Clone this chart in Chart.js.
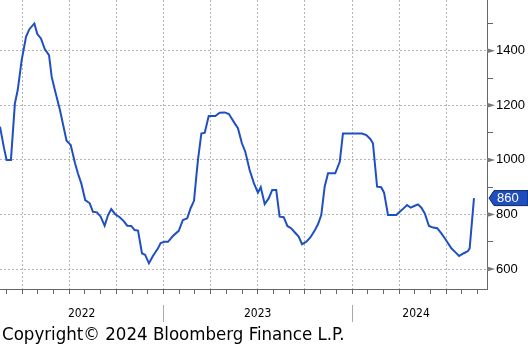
<!DOCTYPE html>
<html>
<head>
<meta charset="utf-8">
<script src="https://cdn.jsdelivr.net/npm/chart.js@4.4.1/dist/chart.umd.min.js"></script>
<style>
  html, body { margin: 0; padding: 0; background: #fff; }
  #wrap { position: relative; width: 528px; height: 349px; }
  #copy {
    position: absolute; left: 2px; top: 323px;
    font: 18.5px "DejaVu Sans Condensed", "Liberation Sans", sans-serif;
    color: #000; white-space: nowrap; line-height: 22px;
  }
</style>
</head>
<body>
<div id="wrap">
  <canvas id="chart" width="528" height="349"></canvas>
  <div id="copy">Copyright© 2024 Bloomberg Finance L.P.</div>
</div>
<script>
// x as decimal years
const dates = [
  2022.133, 2022.154, 2022.168, 2022.191, 2022.212, 2022.227, 2022.248, 2022.271, 2022.288, 2022.315,
  2022.331, 2022.350, 2022.371, 2022.393, 2022.407, 2022.424, 2022.451, 2022.468, 2022.486, 2022.508,
  2022.531, 2022.546, 2022.564, 2022.585, 2022.609, 2022.626, 2022.647, 2022.667, 2022.688, 2022.706,
  2022.723, 2022.744, 2022.768, 2022.789, 2022.808, 2022.829, 2022.847, 2022.865, 2022.886, 2022.903,
  2022.923, 2022.944, 2022.971, 2022.985, 2023.006, 2023.024, 2023.050, 2023.081, 2023.103, 2023.126,
  2023.144, 2023.162, 2023.174, 2023.183, 2023.201, 2023.219, 2023.240, 2023.275, 2023.298, 2023.325,
  2023.347, 2023.378, 2023.395, 2023.416, 2023.434, 2023.457, 2023.480, 2023.501, 2023.516, 2023.537,
  2023.558, 2023.577, 2023.598, 2023.616, 2023.638, 2023.657, 2023.678, 2023.696, 2023.717, 2023.735,
  2023.758, 2023.779, 2023.802, 2023.820, 2023.837, 2023.855, 2023.873, 2023.911, 2023.935, 2023.952,
  2024.053, 2024.076, 2024.097, 2024.111, 2024.133, 2024.155, 2024.170, 2024.191, 2024.235, 2024.253,
  2024.265, 2024.292, 2024.311, 2024.333, 2024.350, 2024.368, 2024.386, 2024.408, 2024.430, 2024.452,
  2024.474, 2024.492, 2024.527, 2024.545, 2024.568, 2024.593, 2024.615, 2024.624, 2024.647
];
const values = [
  1122, 1044, 1000, 1000, 1207, 1256, 1366, 1451, 1478, 1500,
  1461, 1445, 1405, 1384, 1305, 1256, 1183, 1128, 1070, 1055,
  988, 951, 914, 853, 841, 810, 808, 792, 759, 798,
  820, 801, 790, 776, 759, 758, 743, 741, 658, 652,
  621, 648, 676, 695, 700, 700, 721, 740, 780, 786,
  823, 850, 938, 1000, 1097, 1100, 1161, 1161, 1173, 1174,
  1168, 1134, 1116, 1061, 1030, 963, 914, 880, 900, 838,
  859, 890, 890, 792, 790, 758, 749, 735, 719, 691,
  700, 716, 741, 765, 798, 902, 951, 951, 993, 1097,
  1097, 1091, 1077, 1061, 902, 900, 880, 798, 798, 810,
  817, 835, 825, 832, 837, 825, 804, 758, 752, 750,
  731, 713, 676, 664, 648, 658, 666, 676, 860
];
const yearLabels = ["2022", "2023", "2024"];
const yTicks = [600, 700, 800, 900, 1000, 1100, 1200, 1300, 1400, 1500];
const yLabelTicks = [600, 800, 1000, 1200, 1400];
const lastValue = 860;

const X_MIN = 2022.133, X_MAX = 2024.716, X_LABEL_END = 2024.68;
const FONT = '"DejaVu Sans Condensed", "Liberation Sans", sans-serif';
const TICK_FONT = '"Liberation Sans", Arial, sans-serif';
const AXIS = "#666666";
const GRID = "#b4b4b4";

// monthly tick marks along the bottom, grid only at quarters
const monthTicks = [];
for (let y = 2022; y <= 2024; y++) {
  for (let m = 0; m < 12; m++) {
    const v = y + m / 12;
    if (v > X_MIN && v < X_MAX) monthTicks.push({ value: v, quarter: m % 3 === 0 });
  }
}

const extras = {
  id: "extras",
  afterDraw(chart) {
    const { ctx, scales: { x, y } } = chart;
    ctx.save();

    // year labels and separators
    ctx.font = "12px " + FONT;
    ctx.fillStyle = "#000";
    ctx.textAlign = "center";
    ctx.textBaseline = "middle";
    yearLabels.forEach((lab) => {
      const yr = +lab;
      const left = Math.max(yr, X_MIN);
      const right = Math.min(yr + 1, X_LABEL_END);
      const cx = (x.getPixelForValue(left) + x.getPixelForValue(right)) / 2;
      ctx.fillText(lab, cx, 314);
      if (yr > X_MIN) {
        const px = Math.round(x.getPixelForValue(yr)) + 0.5;
        ctx.strokeStyle = "#aaaaaa";
        ctx.lineWidth = 1;
        ctx.beginPath();
        ctx.moveTo(px, 305);
        ctx.lineTo(px, 322);
        ctx.stroke();
      }
    });

    // triangle tick marks at labelled values
    const ax = chart.chartArea.right;
    ctx.fillStyle = "#777777";
    yLabelTicks.forEach((v) => {
      const py = y.getPixelForValue(v);
      ctx.beginPath();
      ctx.moveTo(ax, py - 2.5);
      ctx.lineTo(ax + 8, py);
      ctx.lineTo(ax, py + 2.5);
      ctx.closePath();
      ctx.fill();
    });

    // last value badge
    const by = y.getPixelForValue(lastValue);
    ctx.beginPath();
    ctx.moveTo(ax + 2, by);
    ctx.lineTo(ax + 7, by - 7.5);
    ctx.lineTo(528, by - 7.5);
    ctx.lineTo(528, by + 7.5);
    ctx.lineTo(ax + 7, by + 7.5);
    ctx.closePath();
    ctx.fillStyle = "#1f4fbf";
    ctx.fill();
    ctx.strokeStyle = "#0b2466";
    ctx.lineWidth = 1;
    ctx.stroke();
    ctx.fillStyle = "#fff";
    ctx.font = "13px " + TICK_FONT;
    ctx.textAlign = "left";
    ctx.fillText(String(lastValue), ax + 10, by + 0.5);

    ctx.restore();
  },
};

new Chart(document.getElementById("chart"), {
  type: "line",
  data: {
    datasets: [{
      data: dates.map((d, i) => ({ x: d, y: values[i] })),
      borderColor: "#1f4fc4",
      borderWidth: 2,
      pointRadius: 0,
      tension: 0,
      fill: false,
    }],
  },
  options: {
    responsive: false,
    animation: false,
    devicePixelRatio: 1,
    layout: { padding: 0 },
    plugins: { legend: { display: false }, tooltip: { enabled: false } },
    scales: {
      x: {
        type: "linear",
        min: X_MIN,
        max: X_MAX,
        afterBuildTicks: (s) => { s.ticks = monthTicks.map((t) => ({ value: t.value })); },
        afterFit: (s) => { s.height = 60; s.paddingLeft = 0; s.paddingRight = 0; },
        ticks: { callback: () => "", padding: 0 },
        grid: {
          color: (c) => {
            const t = monthTicks[c.index];
            return t && t.quarter ? GRID : "rgba(0,0,0,0)";
          },
          tickColor: AXIS,
          tickLength: 5,
          tickBorderDash: [],
          lineWidth: 1,
        },
        border: { color: AXIS, width: 1, dash: [2, 2] },
      },
      y: {
        type: "linear",
        position: "right",
        min: 527,
        max: 1586,
        afterBuildTicks: (s) => { s.ticks = yTicks.map((v) => ({ value: v })); },
        afterFit: (s) => { s.width = 41; s.paddingTop = 0; s.paddingBottom = 0; },
        ticks: {
          callback: (v) => (yLabelTicks.includes(v) ? String(v) : ""),
          color: "#000",
          font: { family: TICK_FONT, size: 13 },
          padding: 3,
        },
        grid: {
          color: (c) => (c.tick && yLabelTicks.includes(c.tick.value) ? GRID : "rgba(0,0,0,0)"),
          tickColor: (c) => (c.tick && yLabelTicks.includes(c.tick.value) ? "rgba(0,0,0,0)" : AXIS),
          tickLength: 6,
          tickBorderDash: [],
          lineWidth: 1,
        },
        border: { color: AXIS, width: 1, dash: [2, 2] },
      },
    },
  },
  plugins: [extras],
});
</script>
</body>
</html>
